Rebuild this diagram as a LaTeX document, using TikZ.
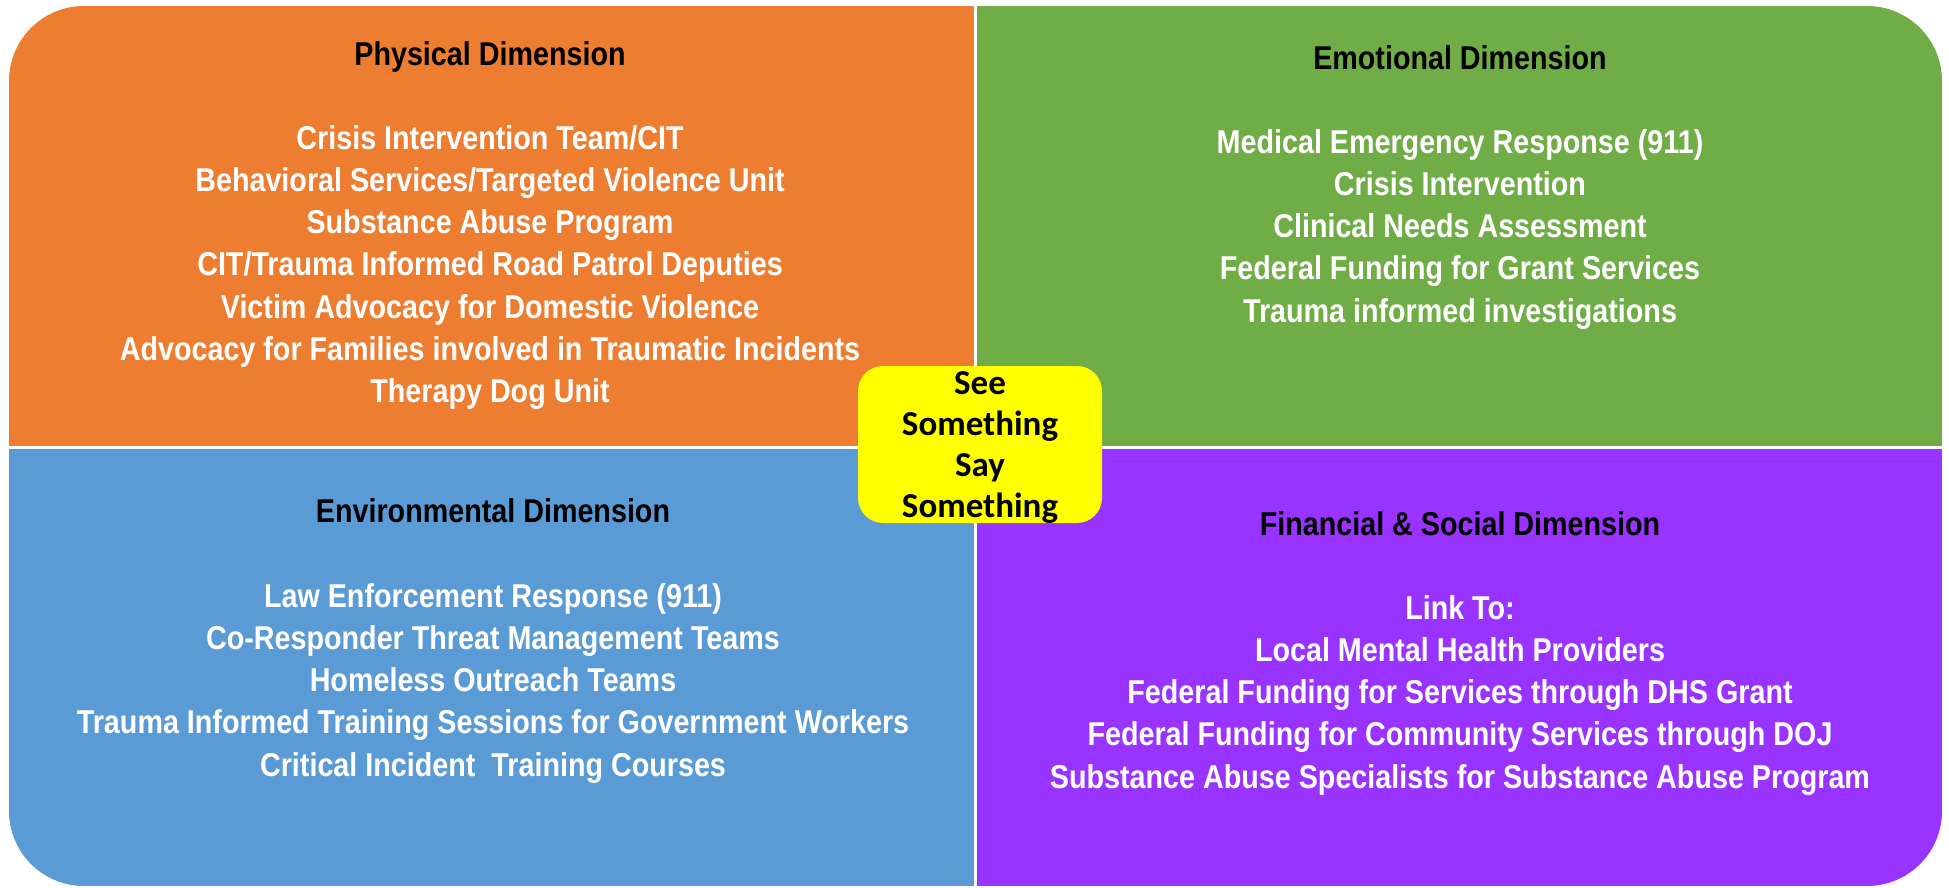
\documentclass[tikz,border=0pt]{standalone}
\usepackage{fontspec}
\setmainfont{Liberation Sans}[FakeStretch=0.87]
\newfontfamily\calfont{Carlito}
\definecolor{qorange}{HTML}{ED7D31}
\definecolor{qgreen}{HTML}{70AD47}
\definecolor{qblue}{HTML}{5B9BD5}
\definecolor{qpurple}{HTML}{9933FF}
\definecolor{qyellow}{HTML}{FFFF00}
\tikzset{
  itemtext/.style={text=white, font=\bfseries\fontsize{33}{40}\selectfont, anchor=base, inner sep=0pt},
  titletext/.style={text=black, font=\bfseries\fontsize{33}{40}\selectfont, anchor=base, inner sep=0pt},
  centertext/.style={text=black, font=\calfont\bfseries\fontsize{35}{40}\selectfont, anchor=base, inner sep=0pt},
  divider/.style={white, line width=3pt}
}
\begin{document}
\begin{tikzpicture}[x=1pt,y=-1pt]
\useasboundingbox (0,0) rectangle (1949,887);
\begin{scope}
  \clip[rounded corners=75pt] (9,6) rectangle (1942,886);
  \fill[qorange] (9,6) rectangle (975,447);
  \fill[qgreen] (975,6) rectangle (1942,447);
  \fill[qblue] (9,447) rectangle (975,886);
  \fill[qpurple] (975,447) rectangle (1942,886);
\end{scope}
\coordinate (vt) at (975,6);
\coordinate (vb) at (975,886);
\coordinate (hl) at (9,447);
\coordinate (hr) at (1942,447);
\draw[divider] (vt) -- (vb);
\draw[divider] (hl) -- (hr);

% Physical
\node[titletext] (ptitle) at (490,65) {Physical Dimension};
\foreach \t [count=\i from 0] in {Crisis Intervention Team/CIT,
  Behavioral Services/Targeted Violence Unit,
  Substance Abuse Program,
  CIT/Trauma Informed Road Patrol Deputies,
  Victim Advocacy for Domestic Violence,
  Advocacy for Families involved in Traumatic Incidents,
  Therapy Dog Unit}
  \node[itemtext] (p\i) at (490,{149+42.3*\i}) {\t};

% Emotional
\node[titletext] (etitle) at (1460,69) {Emotional Dimension};
\foreach \t [count=\i from 0] in {Medical Emergency Response (911),
  Crisis Intervention,
  Clinical Needs Assessment,
  Federal Funding for Grant Services,
  Trauma informed investigations}
  \node[itemtext] (e\i) at (1460,{153+42.3*\i}) {\t};

% Environmental
\node[titletext] (ntitle) at (493,522) {Environmental Dimension};
\foreach \t [count=\i from 0] in {Law Enforcement Response (911),
  Co-Responder Threat Management Teams,
  Homeless Outreach Teams,
  Trauma Informed Training Sessions for Government Workers,
  Critical Incident\ \ Training Courses}
  \node[itemtext] (n\i) at (493,{607+42.3*\i}) {\t};

% Financial
\node[titletext] (ftitle) at (1460,535) {Financial \& Social Dimension};
\foreach \t [count=\i from 0] in {Link To:,
  Local Mental Health Providers,
  Federal Funding for Services through DHS Grant,
  Federal Funding for Community Services through DOJ,
  Substance Abuse Specialists for Substance Abuse Program}
  \node[itemtext] (f\i) at (1460,{619+42.3*\i}) {\t};

% Center box
\node[fill=qyellow, rounded corners=25pt, minimum width=244pt, minimum height=157pt, inner sep=0pt] (center) at (980,444.5) {};
\node[centertext] (c1) at (980,394) {See};
\node[centertext] (c2) at (980,435) {Something};
\node[centertext] (c3) at (980,476) {Say};
\node[centertext] (c4) at (980,517) {Something};
\end{tikzpicture}
\end{document}
